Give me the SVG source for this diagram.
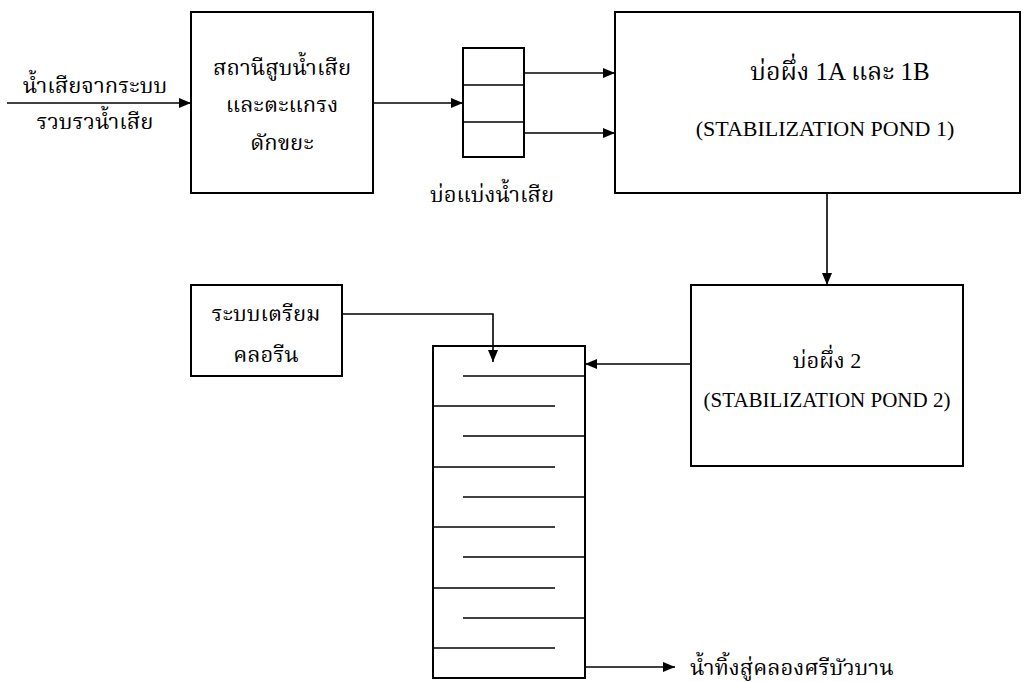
<svg xmlns="http://www.w3.org/2000/svg" width="1028" height="682" viewBox="0 0 1028 682">
  <defs>
    <marker id="arrow" viewBox="0 0 12 10" refX="12" refY="5" markerWidth="12" markerHeight="10" markerUnits="userSpaceOnUse" orient="auto">
      <path d="M0,0 L12,5 L0,10 Z" fill="#000"/>
    </marker>
    <style>
      .box { fill: #fff; stroke: #000; stroke-width: 2; }
      .ln { fill: none; stroke: #000; stroke-width: 1.6; }
      .th { font-family: "Liberation Serif", "Kinnari", "Norasi", "Noto Serif Thai", "Noto Sans Thai Looped", serif; font-size: 22px; fill: #000; text-anchor: middle; }
      .en { font-family: "Liberation Serif", serif; font-size: 22px; fill: #000; text-anchor: middle; }
      .big { font-size: 25px; }
    </style>
  </defs>
  <rect width="1028" height="682" fill="#fff"/>

  <!-- inflow label -->
  <g id="inflow">
    <text class="th" x="95" y="93">น้ำเสียจากระบบ</text>
    <text class="th" x="95" y="129">รวบรวน้ำเสีย</text>
  </g>

  <!-- pumping station and screen -->
  <g id="pump-station">
    <rect class="box" x="191" y="12" width="182" height="181"/>
    <text class="th" x="282" y="75">สถานีสูบน้ำเสีย</text>
    <text class="th" x="282" y="112">และตะแกรง</text>
    <text class="th" x="282" y="150">ดักขยะ</text>
  </g>

  <!-- flow splitter -->
  <g id="splitter">
    <rect class="box" x="463" y="48" width="61" height="109"/>
    <line class="ln" x1="463" y1="85" x2="524" y2="85"/>
    <line class="ln" x1="463" y1="122" x2="524" y2="122"/>
    <text class="th" x="492" y="202">บ่อแบ่งน้ำเสีย</text>
  </g>

  <!-- stabilization pond 1 -->
  <g id="pond-1">
    <rect class="box" x="615" y="12" width="405" height="181"/>
    <text class="th big" x="840" y="80">บ่อผึ่ง 1A และ 1B</text>
    <text class="en" x="825" y="136">(STABILIZATION POND 1)</text>
  </g>

  <!-- stabilization pond 2 -->
  <g id="pond-2">
    <rect class="box" x="691" y="285" width="272" height="181"/>
    <text class="th" x="827" y="368">บ่อผึ่ง 2</text>
    <text class="en" x="827" y="407" style="font-size:21px">(STABILIZATION POND 2)</text>
  </g>

  <!-- chlorine preparation -->
  <g id="chlorine">
    <rect class="box" x="191" y="285" width="151" height="91"/>
    <text class="th" x="266" y="321">ระบบเตรียม</text>
    <text class="th" x="266" y="362">คลอรีน</text>
  </g>

  <!-- chlorine contact tank with baffles -->
  <g id="contact-tank">
    <rect class="box" x="433" y="346" width="152" height="332"/>
    <line class="ln" x1="463" y1="376" x2="585" y2="376"/>
    <line class="ln" x1="433" y1="406" x2="555" y2="406"/>
    <line class="ln" x1="463" y1="436" x2="585" y2="436"/>
    <line class="ln" x1="433" y1="467" x2="555" y2="467"/>
    <line class="ln" x1="463" y1="497" x2="585" y2="497"/>
    <line class="ln" x1="433" y1="527" x2="555" y2="527"/>
    <line class="ln" x1="463" y1="557" x2="585" y2="557"/>
    <line class="ln" x1="433" y1="588" x2="555" y2="588"/>
    <line class="ln" x1="463" y1="618" x2="585" y2="618"/>
    <line class="ln" x1="433" y1="648" x2="555" y2="648"/>
  </g>

  <!-- discharge label -->
  <g id="discharge">
    <text class="th" x="690" y="675" style="text-anchor:start">น้ำทิ้งสู่คลองศรีบัวบาน</text>
  </g>

  <!-- connectors, drawn last so they sit on top of the boxes -->
  <g id="connectors">
    <line class="ln" x1="7" y1="103" x2="191" y2="103" marker-end="url(#arrow)"/>
    <line class="ln" x1="373" y1="103" x2="463" y2="103" marker-end="url(#arrow)"/>
    <line class="ln" x1="524" y1="73" x2="615" y2="73" marker-end="url(#arrow)"/>
    <line class="ln" x1="524" y1="133" x2="615" y2="133" marker-end="url(#arrow)"/>
    <line class="ln" x1="827" y1="193" x2="827" y2="285" marker-end="url(#arrow)"/>
    <line class="ln" x1="691" y1="364" x2="585" y2="364" marker-end="url(#arrow)"/>
    <polyline class="ln" points="342,314 493,314 493,362" marker-end="url(#arrow)"/>
    <line class="ln" x1="585" y1="667" x2="675" y2="667" marker-end="url(#arrow)"/>
  </g>
</svg>
